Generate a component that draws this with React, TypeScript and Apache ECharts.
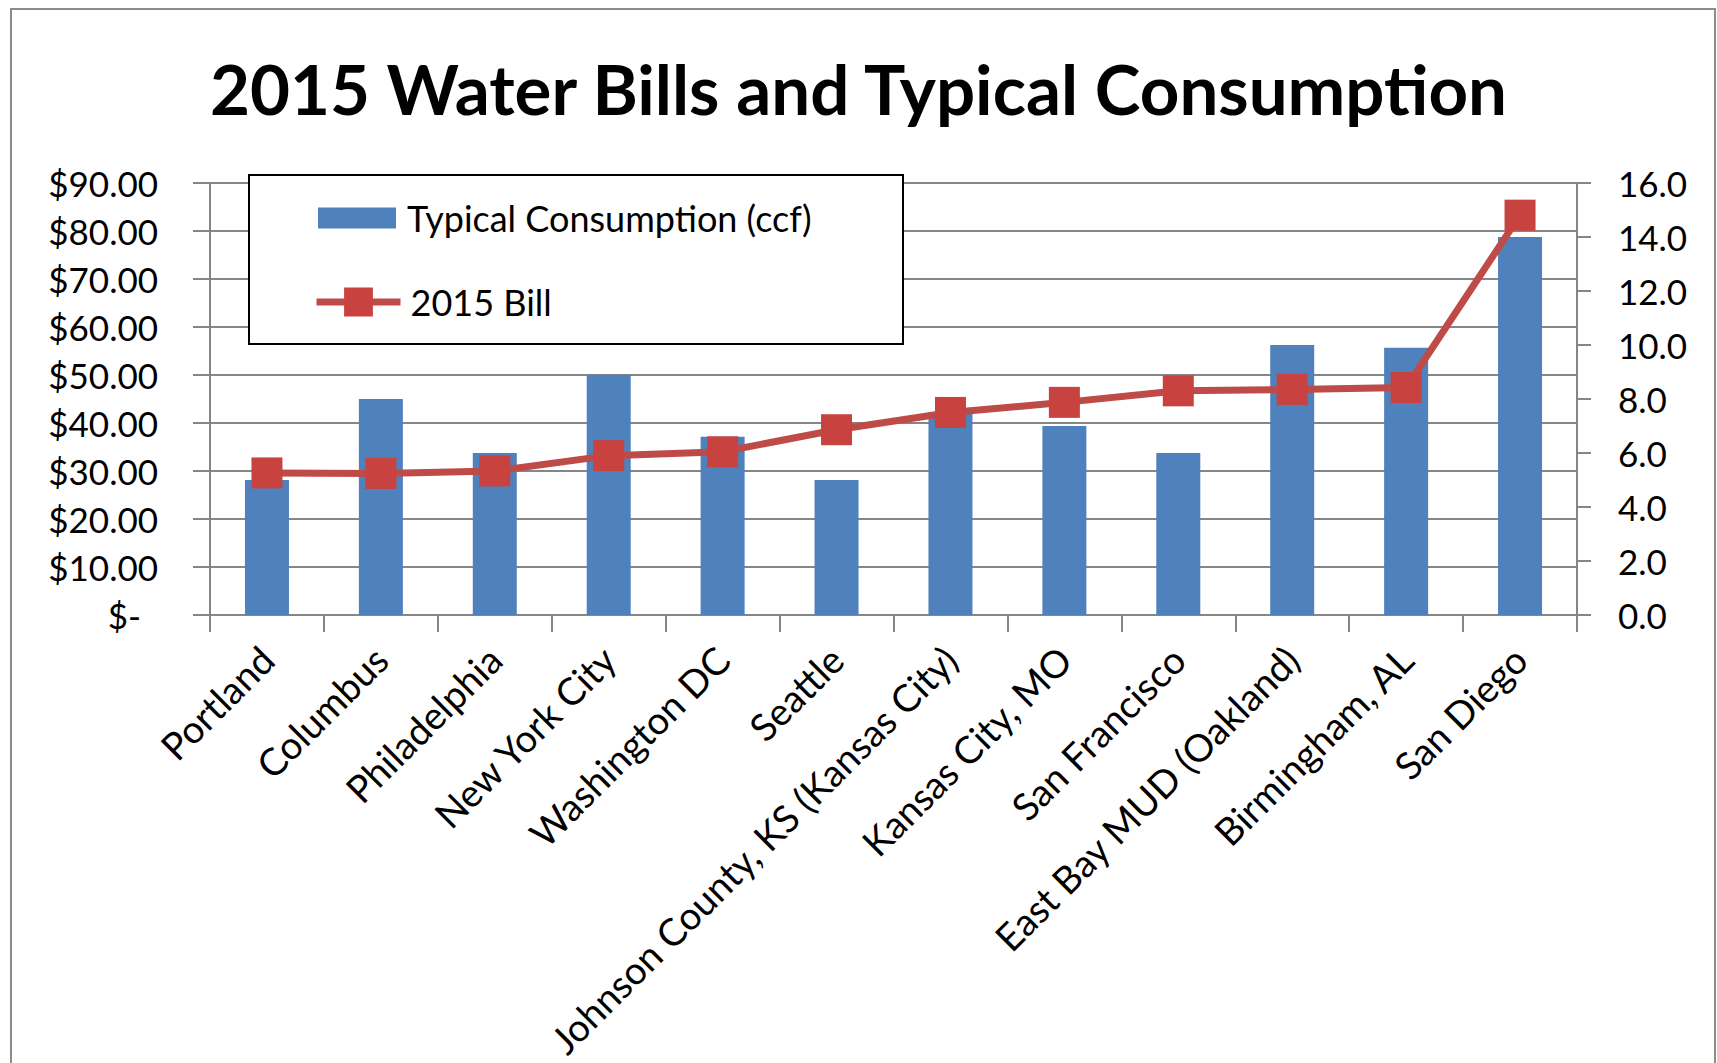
import React, { useEffect, useRef } from "react";
import * as echarts from "echarts";

const categories = [
  "Portland",
  "Columbus",
  "Philadelphia",
  "New York City",
  "Washington DC",
  "Seattle",
  "Johnson County, KS (Kansas City)",
  "Kansas City, MO",
  "San Francisco",
  "East Bay MUD (Oakland)",
  "Birmingham, AL",
  "San Diego",
];
const consumptionCcf = [5.0, 8.0, 6.0, 8.9, 6.6, 5.0, 7.5, 7.0, 6.0, 10.0, 9.9, 14.0];
const bill2015 = [29.6, 29.5, 30.0, 33.2, 34.0, 38.6, 42.2, 44.3, 46.7, 47.0, 47.4, 83.3];
const billAxisRange = [0, 90, 10];
const ccfAxisRange = [0, 16, 2];
const titleText = "2015 Water Bills and Typical Consumption";
const seriesNames = ["Typical Consumption (ccf)", "2015 Bill"];

const FONT = "Lato, 'Open Sans', sans-serif";
const GRAY = "#868686";

export default function App() {
  const ref = useRef<HTMLDivElement>(null);
  useEffect(() => {
    document.body.style.margin = "0";
    document.body.style.overflow = "hidden";
    const chart = echarts.init(ref.current!, undefined, { renderer: "svg" });
    chart.setOption({
      animation: false,
      backgroundColor: "#ffffff",
      textStyle: { fontFamily: FONT },
      title: {
        text: titleText,
        left: "center",
        top: 49,
        textStyle: { fontFamily: FONT, fontWeight: "bold", fontSize: 69, color: "#000" },
      },
      graphic: {
        elements: [
          {
            type: "rect",
            z: 0,
            silent: true,
            shape: { x: 11, y: 9, width: 1704, height: 1100 },
            style: { fill: "none", stroke: "#8c8c8c", lineWidth: 2 },
          },
          {
            type: "rect",
            z: 15,
            silent: true,
            shape: { x: 249, y: 175, width: 654, height: 169 },
            style: { fill: "#ffffff", stroke: "#000000", lineWidth: 2 },
          },
        ],
      },
      legend: [
        {
          data: [{ name: seriesNames[0], icon: "rect" }],
          left: 318,
          top: 198,
          z: 20,
          padding: 0,
          itemWidth: 78,
          itemHeight: 21,
          textStyle: { fontFamily: FONT, fontSize: 36, color: "#000", lineHeight: 40, padding: [0, 0, 0, 6] },
        },
        {
          data: [seriesNames[1]],
          left: 313,
          top: 282,
          z: 20,
          padding: 0,
          itemWidth: 84,
          itemHeight: 36,
          lineStyle: { width: 7 },
          textStyle: { fontFamily: FONT, fontSize: 36, color: "#000", lineHeight: 40, padding: [0, 0, 0, 5] },
        },
      ],
      grid: { left: 210, right: 140, top: 183, bottom: 448, containLabel: false },
      xAxis: {
        type: "category",
        data: categories,
        axisLine: { show: true, lineStyle: { color: GRAY, width: 2 } },
        axisTick: { show: true, length: 17, lineStyle: { color: GRAY, width: 2 } },
        axisLabel: {
          rotate: 45,
          interval: 0,
          margin: 38,
          fontFamily: FONT,
          fontSize: 38,
          color: "#000",
        },
      },
      yAxis: [
        {
          type: "value",
          min: billAxisRange[0],
          max: billAxisRange[1],
          interval: billAxisRange[2],
          position: "left",
          axisLine: { show: true, lineStyle: { color: GRAY, width: 2 } },
          axisTick: { show: true, length: 17, lineStyle: { color: GRAY, width: 2 } },
          splitLine: { show: true, lineStyle: { color: GRAY, width: 2 } },
          axisLabel: {
            margin: 52,
            fontFamily: FONT,
            fontSize: 35,
            color: "#000",
            formatter: (v: number) => (v === 0 ? "{z|$-}" : "$" + v.toFixed(2)),
            rich: { z: { fontFamily: FONT, fontSize: 35, color: "#000", padding: [0, 17, 0, 0] } },
          },
        },
        {
          type: "value",
          min: ccfAxisRange[0],
          max: ccfAxisRange[1],
          interval: ccfAxisRange[2],
          position: "right",
          axisLine: { show: true, lineStyle: { color: GRAY, width: 2 } },
          axisTick: { show: true, length: 14, lineStyle: { color: GRAY, width: 2 } },
          splitLine: { show: false },
          axisLabel: {
            margin: 41,
            fontFamily: FONT,
            fontSize: 35,
            color: "#000",
            formatter: (v: number) => v.toFixed(1),
          },
        },
      ],
      series: [
        {
          name: seriesNames[0],
          type: "bar",
          yAxisIndex: 1,
          data: consumptionCcf,
          barWidth: 44,
          itemStyle: { color: "#4F81BD" },
        },
        {
          name: seriesNames[1],
          type: "line",
          yAxisIndex: 0,
          data: bill2015,
          symbol: "rect",
          symbolSize: 31,
          z: 5,
          lineStyle: { color: "#BE4B48", width: 7 },
          itemStyle: { color: "#C8423F" },
        },
      ],
    });
    return () => chart.dispose();
  }, []);
  return <div ref={ref} style={{ width: 1717, height: 1063 }} />;
}
